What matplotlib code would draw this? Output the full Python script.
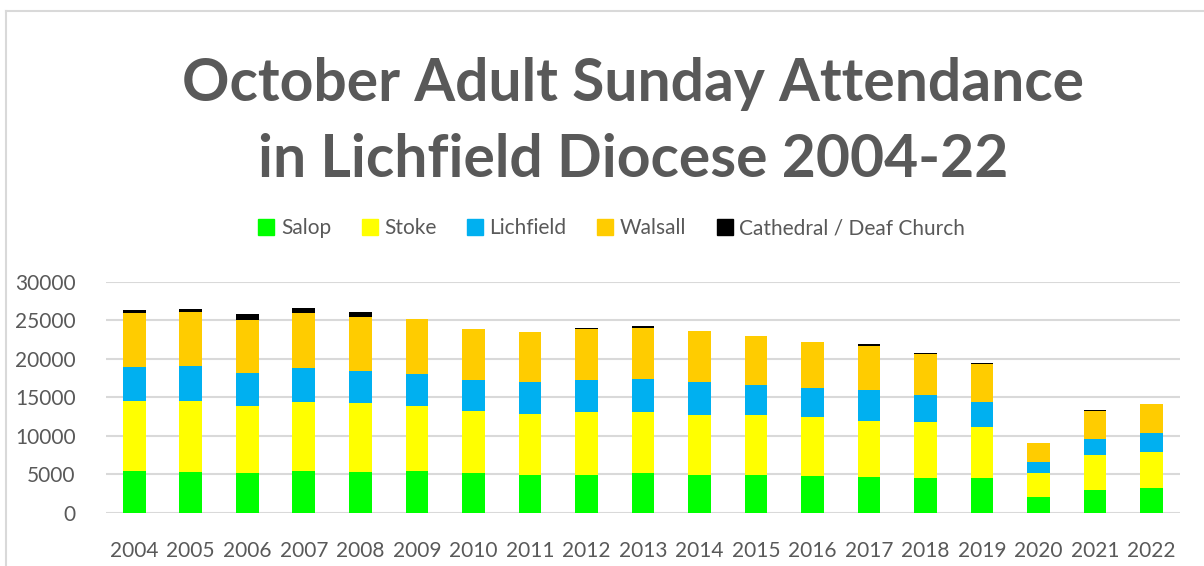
import matplotlib
matplotlib.use("Agg")
import matplotlib.pyplot as plt
from matplotlib.lines import Line2D
import numpy as np

plt.rcParams['font.family'] = ['Lato', 'DejaVu Sans']

years = [str(y) for y in range(2004, 2023)]
salop = [5390, 5350, 5220, 5480, 5350, 5400, 5220, 4920, 4960, 5180,
         4920, 4920, 4750, 4700, 4570, 4490, 1990, 2930, 3190]
stoke = [9070, 9110, 8680, 8890, 8890, 8410, 8030, 7900, 8160, 7940,
         7810, 7730, 7680, 7260, 7260, 6690, 3150, 4540, 4750]
lichfield = [4530, 4540, 4270, 4490, 4230, 4230, 3930, 4100, 4140, 4270,
             4190, 3970, 3800, 3920, 3490, 3190, 1460, 2070, 2380]
walsall = [6910, 7110, 6910, 7120, 6950, 7080, 6640, 6560, 6610, 6650,
           6690, 6300, 5950, 5830, 5350, 4970, 2510, 3670, 3750]
cathedral = [430, 350, 690, 610, 610, 0, 0, 0, 130, 170,
             0, 0, 0, 220, 130, 120, 0, 170, 0]

series = [("Salop", salop, "#00FF00"),
          ("Stoke", stoke, "#FFFF00"),
          ("Lichfield", lichfield, "#00B0F0"),
          ("Walsall", walsall, "#FFCC00"),
          ("Cathedral / Deaf Church", cathedral, "#000000")]

grey = "#595959"

fig = plt.figure(figsize=(12.04, 5.66), dpi=100)
ax = fig.add_axes([0.088, 0.094, 0.892, 0.4083])

x = np.arange(len(years))
bottom = np.zeros(len(years))
handles = []
for name, vals, col in series:
    ax.bar(x, vals, 0.4, bottom=bottom, color=col, zorder=3)
    bottom += np.array(vals)
    handles.append(Line2D([], [], marker='s', linestyle='none', markersize=11,
                          markerfacecolor=col, markeredgecolor=col, label=name))

ax.set_xlim(-0.5, len(years) - 0.5)
ax.set_ylim(0, 30000)
ax.set_yticks(range(0, 30001, 5000))
ax.set_xticks(x)
ax.set_xticklabels(years)
ax.grid(axis='y', color='#D9D9D9', linewidth=1.5, zorder=0)
for s in ax.spines.values():
    s.set_visible(False)
ax.tick_params(length=0, colors=grey, labelsize=15)
ax.tick_params(axis='y', pad=22)
ax.tick_params(axis='x', pad=20)

fig.text(0.526, 0.90, "October Adult Sunday Attendance\nin Lichfield Diocese 2004-22",
         ha='center', va='top', fontsize=42.3, fontweight='bold', color=grey,
         linespacing=1.52)

fig.legend(handles=handles, loc='center', bbox_to_anchor=(0.508, 0.597), ncol=5,
           frameon=False, fontsize=15, labelcolor=grey, handletextpad=0.3,
           columnspacing=1.45, handlelength=0.8)

# chart area border (partially cropped in the original)
fig.add_artist(Line2D([6 / 1204, 6 / 1204], [0, 1 - 11 / 566], color='#D9D9D9',
                      linewidth=1.5, transform=fig.transFigure))
fig.add_artist(Line2D([6 / 1204, 1], [1 - 11 / 566, 1 - 11 / 566], color='#D9D9D9',
                      linewidth=1.5, transform=fig.transFigure))

fig.savefig("out.png", dpi=100)
